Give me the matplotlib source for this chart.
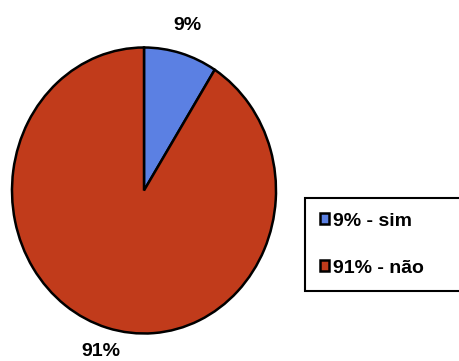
import matplotlib.pyplot as plt

plt.rcParams['font.family'] = ['Liberation Sans', 'DejaVu Sans']

categories = ['sim', 'não']
values = [9, 91]
pct_labels = ['9%', '91%']
colors = ['#5b80e3', '#c13b1b']

fig = plt.figure(figsize=(4.6, 3.61), dpi=100)
fig.patch.set_facecolor('white')

# pie axes, slightly taller than wide
ax = fig.add_axes([12 / 460, 27.5 / 361, 264 / 460, 286 / 361])
wedges, texts = ax.pie(values, labels=pct_labels, colors=colors,
                       startangle=90, counterclock=False,
                       labeldistance=1.17,
                       wedgeprops=dict(edgecolor='black', linewidth=1.8),
                       textprops=dict(fontsize=14, fontweight='bold'))
for t in texts:
    t.set_horizontalalignment('center')
    # labels above the pie sit on their baseline, below it centred
    if t.get_position()[1] > 0:
        t.set_verticalalignment('baseline')
ax.set_aspect('auto')
ax.set_xlim(-1, 1)
ax.set_ylim(-1, 1)

legend_labels = [f'{p} - {c}' for p, c in zip(pct_labels, categories)]
leg = fig.legend(wedges, legend_labels, loc='upper left',
                 bbox_to_anchor=(305 / 460, 1 - 198 / 361, 0.5, 0.0),
                 mode='expand', fontsize=14, frameon=True, fancybox=False,
                 edgecolor='black', framealpha=1, borderpad=0.75,
                 labelspacing=1.55, handlelength=0.5, handleheight=0.5,
                 handletextpad=0.2, borderaxespad=0)
leg.get_frame().set_linewidth(1.5)
for t in leg.get_texts():
    t.set_fontweight('bold')

fig.savefig('out.png', dpi=100)
